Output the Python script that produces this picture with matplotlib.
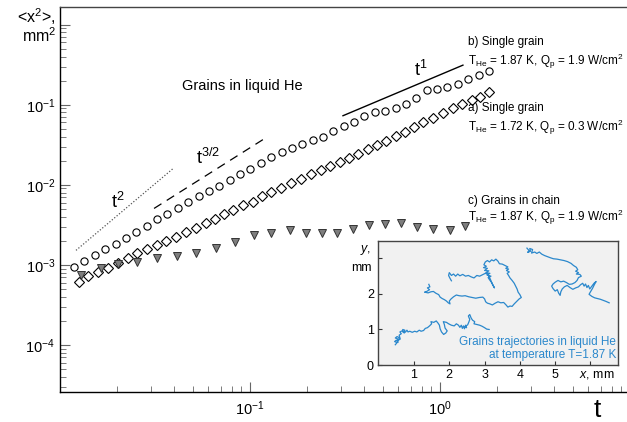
import matplotlib
matplotlib.use('Agg')
import matplotlib.pyplot as plt

plt.rcParams['font.family'] = ['Liberation Sans', 'DejaVu Sans']
plt.rcParams['mathtext.fontset'] = 'custom'
plt.rcParams['mathtext.rm'] = 'Liberation Sans'
plt.rcParams['mathtext.it'] = 'Liberation Sans:italic'

# b) single grain, T=1.87 K (circles)
t_b = [0.01186, 0.01345, 0.01525, 0.01729, 0.01961, 0.02223, 0.02521, 0.02859, 0.03242,
       0.03676, 0.04169, 0.04727, 0.0536, 0.06078, 0.06893, 0.07816, 0.08863, 0.1005,
       0.114, 0.1292, 0.1466, 0.1662, 0.1884, 0.2137, 0.2423, 0.2748, 0.3116, 0.3533,
       0.4006, 0.4543, 0.5152, 0.5842, 0.6624, 0.7512, 0.8518, 0.966, 1.095, 1.242,
       1.408, 1.597, 1.811]
x2_b = [9.33e-4, 1.109e-3, 1.318e-3, 1.565e-3, 1.806e-3, 2.145e-3, 2.547e-3, 3.025e-3,
        3.70e-3, 4.27e-3, 5.07e-3, 6.02e-3, 7.15e-3, 8.49e-3, 9.80e-3, 1.164e-2, 1.383e-2,
        1.596e-2, 1.896e-2, 2.251e-2, 2.60e-2, 2.92e-2, 3.27e-2, 3.67e-2, 3.99e-2, 4.74e-2,
        5.47e-2, 6.14e-2, 7.29e-2, 8.18e-2, 8.42e-2, 9.18e-2, 0.1029, 0.1222, 0.1538,
        0.1582, 0.1675, 0.1827, 0.2109, 0.2366, 0.2653]

# a) single grain, T=1.72 K (diamonds)
t_a = [0.01259, 0.01403, 0.01585, 0.0179, 0.0202, 0.02281, 0.02543, 0.02871, 0.03241,
       0.03614, 0.0408, 0.04607, 0.052, 0.0587, 0.06545, 0.07298, 0.08137, 0.09187,
       0.1037, 0.1156, 0.129, 0.1456, 0.1644, 0.1855, 0.2094, 0.2364, 0.2636, 0.2976,
       0.3318, 0.37, 0.4177, 0.4657, 0.5193, 0.5863, 0.6538, 0.729, 0.8128, 0.9186,
       1.037, 1.171, 1.306, 1.474, 1.624, 1.812]
x2_a = [6.07e-4, 7.21e-4, 8.09e-4, 9.08e-4, 1.047e-3, 1.209e-3, 1.394e-3, 1.564e-3,
        1.754e-3, 1.968e-3, 2.208e-3, 2.547e-3, 2.857e-3, 3.30e-3, 3.70e-3, 4.27e-3,
        4.79e-3, 5.52e-3, 6.19e-3, 7.15e-3, 8.02e-3, 9.25e-3, 1.068e-2, 1.198e-2,
        1.383e-2, 1.552e-2, 1.74e-2, 1.952e-2, 2.19e-2, 2.455e-2, 2.83e-2, 3.18e-2,
        3.56e-2, 4.11e-2, 4.61e-2, 5.32e-2, 6.14e-2, 6.89e-2, 7.94e-2, 9.18e-2, 0.1029,
        0.1154, 0.1258, 0.1452]

# c) grains in chain (triangles)
t_c = [0.01291, 0.01644, 0.0202, 0.02543, 0.03241, 0.04128, 0.052, 0.06622, 0.08338,
       0.105, 0.129, 0.1624, 0.1972, 0.2393, 0.287, 0.3484, 0.4229, 0.5135, 0.6235,
       0.757, 0.9186, 1.129, 1.354]
x2_c = [7.41e-4, 9.08e-4, 1.017e-3, 1.077e-3, 1.209e-3, 1.28e-3, 1.394e-3, 1.61e-3,
        1.911e-3, 2.338e-3, 2.476e-3, 2.70e-3, 2.476e-3, 2.476e-3, 2.476e-3, 2.77e-3,
        3.11e-3, 3.21e-3, 3.30e-3, 2.94e-3, 2.77e-3, 2.70e-3, 3.03e-3]

# guide lines (power laws)
t2_t = [0.01214, 0.0393]
t2_y = [1.52e-3, 1.59e-2]
t15_t = [0.03126, 0.12]
t15_y = [5.07e-3, 3.81e-2]
t1_t = [0.3087, 1.321]
t1_y = [0.0729, 0.312]

# inset trajectories, mm
tr1_x = [0.47, 0.52, 0.45, 0.50, 0.55, 0.53, 0.47, 0.52, 0.58, 0.56, 0.61, 0.58, 0.64,
         0.60, 0.66, 0.70, 0.68, 0.74, 0.72, 0.77, 0.80, 0.83, 0.88, 0.95, 1.02, 1.08,
         1.15, 1.20, 1.27, 1.32, 1.38, 1.44, 1.50, 1.48, 1.56, 1.63, 1.68, 1.72, 1.74,
         1.78, 1.84, 1.90, 1.94, 1.88, 1.86, 1.83, 1.92, 1.98, 2.06, 2.14, 2.20, 2.26,
         2.30, 2.34, 2.37, 2.40, 2.43, 2.46, 2.49, 2.44, 2.52, 2.55, 2.58, 2.54, 2.58,
         2.62, 2.66, 2.72, 2.70, 2.78, 2.86, 2.93, 3.00, 3.06, 3.13]
tr1_y = [0.57, 0.63, 0.66, 0.70, 0.64, 0.74, 0.76, 0.80, 0.77, 0.70, 0.73, 0.84, 0.88,
         0.93, 0.96, 0.92, 1.00, 0.98, 0.90, 0.94, 0.98, 0.93, 0.95, 0.92, 0.95, 0.93,
         0.98, 0.95, 0.97, 1.03, 1.05, 1.10, 1.16, 1.22, 1.20, 1.24, 1.18, 1.12, 1.02,
         0.93, 0.86, 0.90, 0.96, 1.04, 1.14, 1.22, 1.20, 1.16, 1.12, 1.10, 1.16, 1.12,
         1.06, 1.12, 1.03, 1.10, 1.02, 1.12, 1.05, 1.08, 1.13, 1.20, 1.28, 1.38, 1.42,
         1.32, 1.26, 1.22, 1.16, 1.14, 1.12, 1.09, 1.05, 1.01, 1.00]

tr2_x = [1.42, 1.45, 1.38, 1.44, 1.36, 1.30, 1.40, 1.48, 1.55, 1.62, 1.70, 1.74, 1.80,
         1.86, 1.92, 1.97, 2.02, 2.00, 2.05, 2.12, 2.20, 2.28, 2.36, 2.45, 2.55, 2.65,
         2.75, 2.85, 2.95, 3.00, 3.03, 3.08, 3.15, 3.22, 3.30, 3.38, 3.46, 3.54, 3.60,
         3.66, 3.72, 3.78, 3.84, 3.92, 3.98, 4.04, 4.00, 3.95, 3.92, 3.88, 3.84, 3.78,
         3.72, 3.68, 3.64, 3.70, 3.62, 3.68, 3.60, 3.66, 3.58, 3.50, 3.42, 3.38, 3.32,
         3.26, 3.20, 3.14, 3.08, 3.02, 2.98, 3.05, 2.97, 3.08, 3.00, 3.12, 3.04, 3.15,
         3.07, 3.18, 3.10, 3.14, 3.20, 3.24, 3.28, 3.22, 3.16, 3.10, 3.02, 2.94, 2.86,
         2.78, 2.70, 2.62, 2.54, 2.46, 2.38, 2.30, 2.24, 2.18, 2.12, 2.06, 2.00, 1.98,
         2.02, 2.06]
tr2_y = [2.27, 2.20, 2.17, 2.12, 2.07, 2.05, 2.03, 2.06, 2.07, 2.02, 1.98, 1.91, 1.87,
         1.84, 1.80, 1.75, 1.72, 1.80, 1.86, 1.92, 1.97, 1.95, 1.94, 1.95, 1.92, 1.90,
         1.88, 1.90, 1.91, 1.86, 1.78, 1.74, 1.72, 1.69, 1.74, 1.78, 1.75, 1.76, 1.70,
         1.63, 1.66, 1.65, 1.72, 1.80, 1.86, 1.90, 1.98, 2.05, 2.14, 2.22, 2.30, 2.38,
         2.45, 2.52, 2.58, 2.62, 2.66, 2.70, 2.72, 2.76, 2.80, 2.84, 2.85, 2.92, 2.98,
         2.93, 2.96, 2.90, 2.94, 2.90, 2.82, 2.78, 2.74, 2.72, 2.66, 2.65, 2.60, 2.58,
         2.53, 2.50, 2.46, 2.40, 2.32, 2.24, 2.17, 2.28, 2.42, 2.55, 2.58, 2.54, 2.50,
         2.52, 2.45, 2.48, 2.52, 2.50, 2.55, 2.51, 2.56, 2.50, 2.56, 2.52, 2.60, 2.52,
         2.44, 2.37]

tr3_x = [4.20, 4.26, 4.22, 4.30, 4.28, 4.36, 4.33, 4.42, 4.48, 4.55, 4.62, 4.70, 4.78,
         4.86, 4.95, 5.05, 5.15, 5.25, 5.35, 5.45, 5.52, 5.60, 5.64, 5.58, 5.66, 5.60,
         5.70, 5.74, 5.66, 5.62, 5.56, 5.48, 5.40, 5.32, 5.24, 5.16, 5.08, 5.00, 4.94,
         4.90, 4.94, 5.00, 5.06, 5.10, 5.14, 5.16, 5.20, 5.26, 5.34, 5.42, 5.50, 5.58,
         5.66, 5.72, 5.78, 5.82, 5.86, 5.90, 5.94, 5.98, 6.04, 6.10, 6.16, 6.12, 6.06,
         6.00, 5.96, 6.04, 6.12, 6.20, 6.28, 6.36, 6.44, 6.53]
tr3_y = [3.29, 3.22, 3.17, 3.20, 3.28, 3.25, 3.15, 3.18, 3.14, 3.18, 3.12, 3.08, 3.05,
         3.02, 2.99, 2.98, 2.96, 2.94, 2.91, 2.86, 2.80, 2.75, 2.68, 2.64, 2.60, 2.56,
         2.55, 2.50, 2.46, 2.38, 2.32, 2.28, 2.27, 2.32, 2.36, 2.34, 2.38, 2.33, 2.28,
         2.22, 2.15, 2.08, 2.12, 2.02, 1.96, 2.06, 2.14, 2.20, 2.24, 2.18, 2.13, 2.17,
         2.20, 2.26, 2.30, 2.22, 2.28, 2.18, 2.24, 2.14, 2.22, 2.30, 2.35, 2.28, 2.16,
         2.06, 1.99, 1.93, 1.89, 1.87, 1.85, 1.82, 1.79, 1.75]

fig = plt.figure(figsize=(6.27, 4.22), dpi=100)
W, H = 627, 422
ax = fig.add_axes([60 / W, 30 / H, 567 / W, 385 / H])
ax.set_xscale('log')
ax.set_yscale('log')
ax.set_xlim(0.01, 9.65)
ax.set_ylim(2.59e-5, 1.66)

ax.plot(t_b, x2_b, 'o', ms=5.2, mfc='none', mec='black', mew=0.8)
ax.plot(t_a, x2_a, 'D', ms=4.6, mfc='none', mec='black', mew=0.8)
ax.plot(t_c, x2_c, 'v', ms=6, mfc='#7e7e7e', mec='#333333', mew=0.7)
ax.plot(t2_t, t2_y, color='#555555', lw=0.9, ls=(0, (1, 1.5)))
ax.plot(t15_t, t15_y, color='black', lw=0.9, ls=(0, (7, 5)))
ax.plot(t1_t, t1_y, color='black', lw=1.0)

ax.spines['right'].set_visible(False)
for s in ['top', 'left', 'bottom']:
    ax.spines[s].set_linewidth(1.0)
ax.spines['top'].set_color('#444444')
ax.tick_params(which='both', direction='in', labelsize=10.5, color='#666666')
ax.tick_params(which='major', length=7)
ax.tick_params(which='minor', length=4)
ax.set_xticks([0.1, 1])
ax.set_xticklabels([r'$\mathregular{10^{-1}}$', r'$\mathregular{10^{0}}$'])
ax.set_yticks([1e-4, 1e-3, 1e-2, 1e-1, 1])
ax.set_yticklabels([r'$\mathregular{10^{-4}}$', r'$\mathregular{10^{-3}}$',
                    r'$\mathregular{10^{-2}}$', r'$\mathregular{10^{-1}}$', ''])
ax.tick_params(axis='x', pad=5)

fig.text(56 / W, 1 - 6 / H, '<x$\\mathregular{^{2}}$>,\nmm$\\mathregular{^{2}}$',
         ha='right', va='top', ma='right', fontsize=11.5, linespacing=0.95)
fig.text(597 / W, 1 - 417 / H, 't', ha='center', va='baseline', fontsize=19)

ax.text(0.0202, 6.1e-3, r'$\mathregular{t^{2}}$', fontsize=13, ha='center', va='center')
ax.text(0.0601, 2.16e-2, r'$\mathregular{t^{3/2}}$', fontsize=13, ha='center', va='center')
ax.text(0.794, 0.271, r'$\mathregular{t^{1}}$', fontsize=13, ha='center', va='center')
ax.text(0.0908, 0.171, 'Grains in liquid He', fontsize=10.5, ha='center', va='center')

ann = dict(fontsize=8.5, ha='left', va='center')
sub = r'T$\mathregular{_{He}}$ = %s K, Q$\mathregular{_{p}}$ = %s W/cm$\mathregular{^{2}}$'
fig.text(468 / W, 1 - 42 / H, 'b) Single grain', **ann)
fig.text(468 / W, 1 - 61 / H, sub % ('1.87', '1.9'), **ann)
fig.text(468 / W, 1 - 108 / H, 'a) Single grain', **ann)
fig.text(468 / W, 1 - 127 / H, sub % ('1.72', '0.3'), **ann)
fig.text(468 / W, 1 - 201 / H, 'c) Grains in chain', **ann)
fig.text(468 / W, 1 - 217 / H, sub % ('1.87', '1.9'), **ann)

# inset with trajectories
ins = fig.add_axes([378 / W, 57 / H, 240 / W, 124 / H])
ins.set_facecolor('#f1f1f1')
blue = '#2b88cc'
ins.plot(tr1_x, tr1_y, color=blue, lw=0.9)
ins.plot(tr2_x, tr2_y, color=blue, lw=0.9)
ins.plot(tr3_x, tr3_y, color=blue, lw=0.9)
ins.set_xlim(-0.02, 6.78)
ins.set_ylim(0, 3.49)
ins.set_xticks([1, 2, 3, 4, 5, 6])
ins.set_xticklabels(['1', '2', '3', '4', '5', ''])
ins.set_yticks([0, 1, 2, 3])
ins.set_yticklabels(['0', '1', '2', ''])
ins.tick_params(direction='in', length=3, labelsize=9, pad=3, color='#333333')
for s in ins.spines.values():
    s.set_color('#444444')
    s.set_linewidth(1.0)
ins.text(6.72, 0.66, 'Grains trajectories in liquid He', color=blue, fontsize=8.5,
         ha='right', va='center')
ins.text(6.72, 0.28, 'at temperature T=1.87 K', color=blue, fontsize=8.5,
         ha='right', va='center')
fig.text(597 / W, 1 - 375 / H, r'$\mathit{x}$, mm', ha='center', va='center', fontsize=9)
fig.text(366 / W, 1 - 250 / H, r'$\mathit{y}$,', ha='center', va='center', fontsize=9)
fig.text(361 / W, 1 - 268 / H, 'mm', ha='center', va='center', fontsize=9)

fig.savefig('out.png', dpi=100)
